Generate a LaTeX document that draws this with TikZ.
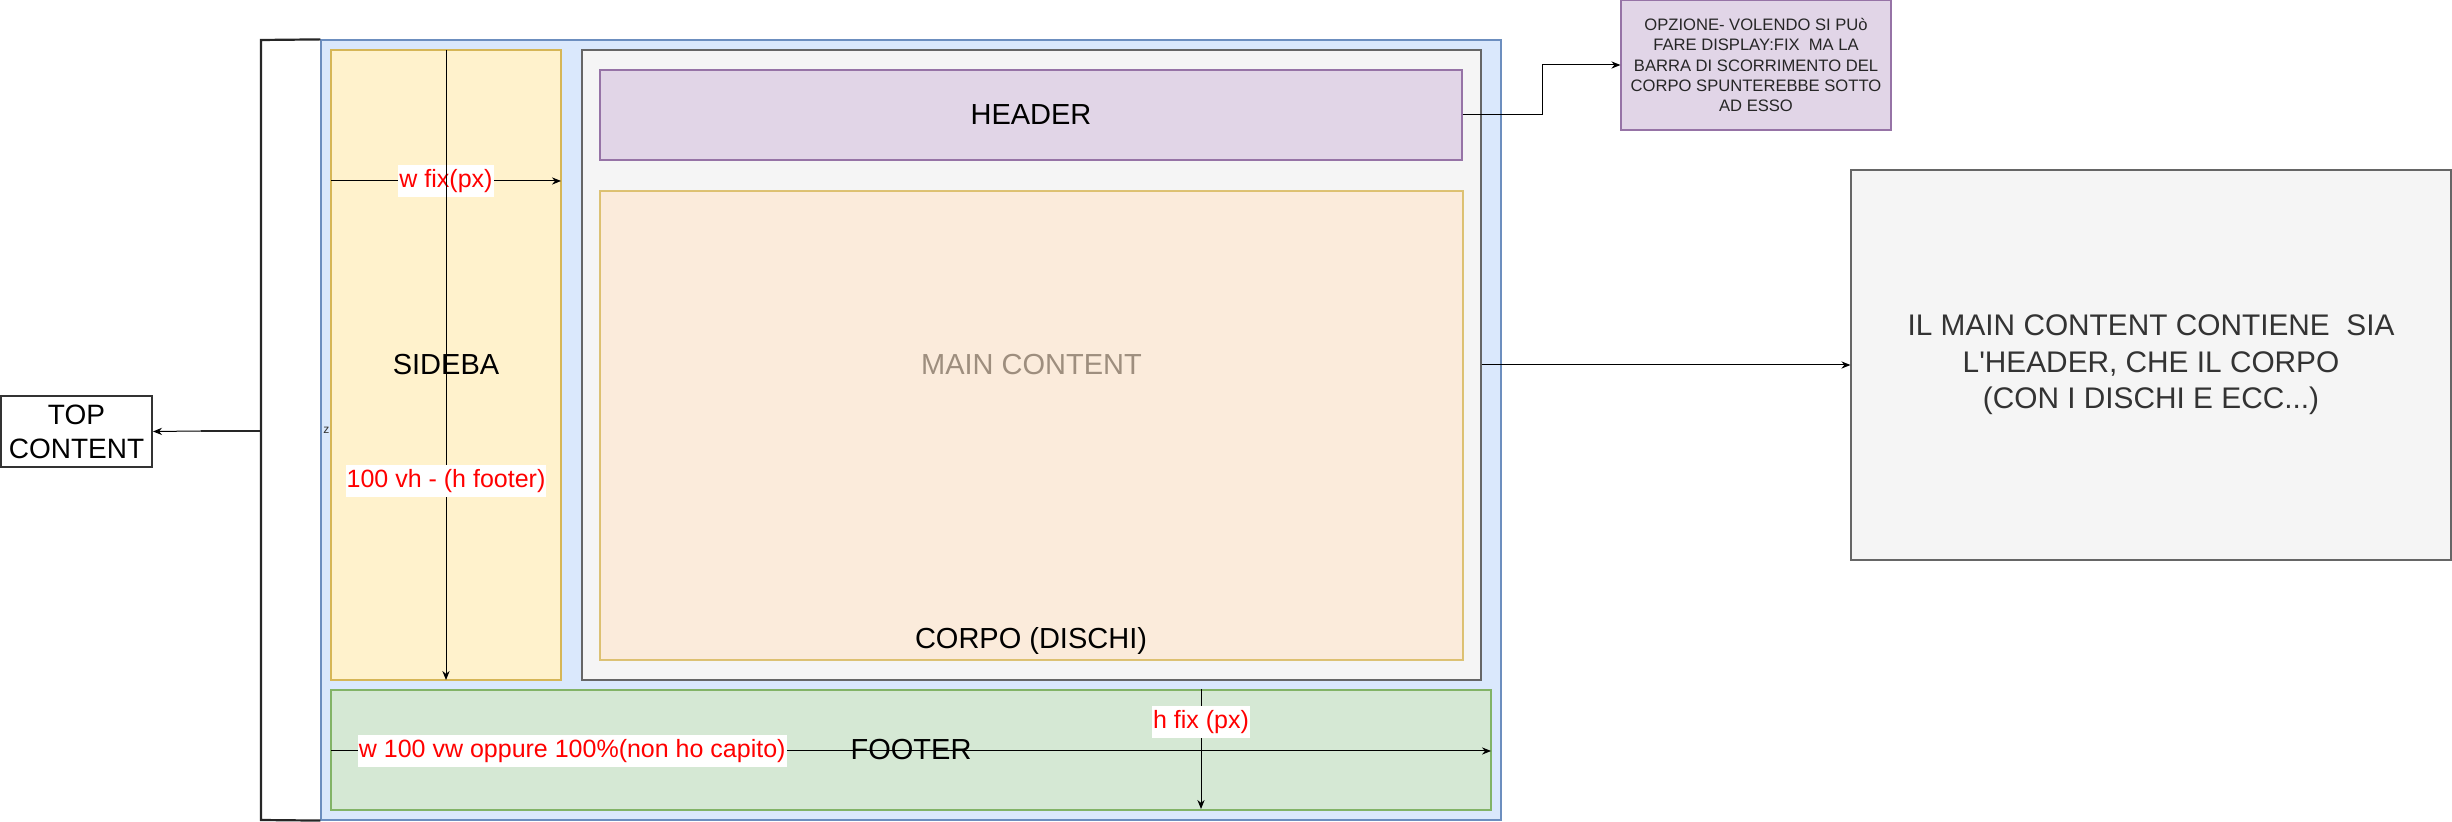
\documentclass[tikz,border=0pt]{standalone}
\usepackage{fontspec}
\setmainfont{Liberation Sans}
\usetikzlibrary{arrows.meta}
\definecolor{blueF}{HTML}{DAE8FC}
\definecolor{blueS}{HTML}{6C8EBF}
\definecolor{sideF}{HTML}{FFF2CC}
\definecolor{sideS}{HTML}{D6B656}
\definecolor{grayF}{HTML}{F5F5F5}
\definecolor{grayS}{HTML}{666666}
\definecolor{purF}{HTML}{E1D5E7}
\definecolor{purS}{HTML}{9673A6}
\definecolor{corF}{HTML}{FFE6CC}
\definecolor{greenF}{HTML}{D5E8D4}
\definecolor{greenS}{HTML}{82B366}
\definecolor{darkT}{HTML}{333333}
\definecolor{redT}{HTML}{FF0000}
\newcommand\fsBig{\fontsize{14.5}{18}\selectfont}
\newcommand\fsExp{\fontsize{14.9}{18.2}\selectfont}
\newcommand\fsRed{\fontsize{12.5}{15}\selectfont}
\newcommand\fsOpz{\fontsize{8.3}{10.2}\selectfont}
\newcommand\fsTop{\fontsize{14}{17}\selectfont}
\newcommand\fsTiny{\fontsize{6}{7}\selectfont}
\begin{document}
\begin{tikzpicture}[x=0.5pt,y=-0.5pt,
  box/.style={draw, line width=0.6pt, inner sep=0pt, align=center, font=\fsBig},
  arr/.style={draw=black, line width=0.5pt, -{Stealth[length=4.5pt,width=3.6pt]}},
  redlbl/.style={fill=white, text=redT, font=\fsRed, inner xsep=0.5pt, inner ysep=2pt},
  brack/.style={draw=black!85, line width=1.1pt}]
\useasboundingbox (0,0) rectangle (2452,822);

% outer container
\node[box, fill=blueF, draw=blueS, minimum width=590pt, minimum height=390pt] (outer) at (911,430) {};
% sidebar
\node[box, fill=sideF, draw=sideS, minimum width=115pt, minimum height=315pt] (side) at (446,365) {SIDEBA};
% main content
\node[box, fill=grayF, draw=grayS, minimum width=449.5pt, minimum height=315pt] (main) at (1031.5,365) {MAIN CONTENT};
% header
\node[box, fill=purF, draw=purS, minimum width=431pt, minimum height=45pt] (header) at (1031,115) {HEADER};
% corpo
\node[box, fill=corF, draw=sideS, fill opacity=0.62, draw opacity=0.8, minimum width=431.5pt, minimum height=234.5pt] (corpo) at (1031.5,425.5) {};
\node[font=\fsBig, inner sep=0pt, anchor=base] (corpolbl) at (1031,649) {CORPO (DISCHI)};
% footer
\node[box, fill=greenF, draw=greenS, minimum width=580pt, minimum height=60pt] (footer) at (911,750) {FOOTER};

% option box
\node[box, fill=purF, draw=purS, minimum width=135pt, minimum height=65pt, font=\fsOpz, text=black!85] (opz) at (1756,65)
  {OPZIONE- VOLENDO SI PUò\\FARE DISPLAY:FIX\ \ MA LA\\BARRA DI SCORRIMENTO DEL\\CORPO SPUNTEREBBE SOTTO\\AD ESSO};
% explanation box
\node[box, fill=grayF, draw=grayS, minimum width=300pt, minimum height=195pt, text=darkT, font=\fsExp] (expl) at (2151,365)
  {IL MAIN CONTENT CONTIENE\ \ SIA\\L\textquotesingle HEADER, CHE IL CORPO\\(CON I DISCHI E ECC...)};

% top content
\node[box, fill=white, draw=darkT, line width=1pt, minimum width=75.5pt, minimum height=35.5pt, font=\fsTop] (top) at (76.5,431.5) {TOP\\CONTENT};

% bracket
\coordinate (brT) at (261,40);
\coordinate (brB) at (261,820);
\coordinate (brM) at (261,431);
\coordinate (brk) at (201,431);
\draw[brack] (outer.north west) -- (brT) -- (brB) -- (outer.south west);
\draw[brack] (brM) -- (brk);
\draw[arr] (brk) -- (top.east);
\node[font=\fsTiny, inner sep=0pt, anchor=west, text=darkT] (zlbl) at (323,430) {z};

% sidebar measures
\coordinate (wfA) at (331,181);
\coordinate (wfB) at (561,181);
\draw[arr] (wfA) -- node[redlbl] (wfix) {w fix(px)} (wfB);
\coordinate (vhA) at (446,50);
\coordinate (vhB) at (446,680);
\draw[arr] (vhA) -- node[redlbl, pos=0.684] (vh) {100 vh - (h footer)} (vhB);

% footer measures
\coordinate (fwA) at (331,751);
\coordinate (fwB) at (1491,751);
\draw[arr] (fwA) -- node[redlbl, pos=0.208] (fw) {w 100 vw oppure 100\%(non ho capito)} (fwB);
\coordinate (fhA) at (1201,689);
\coordinate (fhB) at (1201,809);
\draw[arr] (fhA) -- node[redlbl, pos=0.275] (fh) {h fix (px)} (fhB);

% connectors
\draw[arr] (header.east) -- (1542,115) |- (opz.west);
\draw[arr] (main.east) -- (expl.west);
\end{tikzpicture}
\end{document}
